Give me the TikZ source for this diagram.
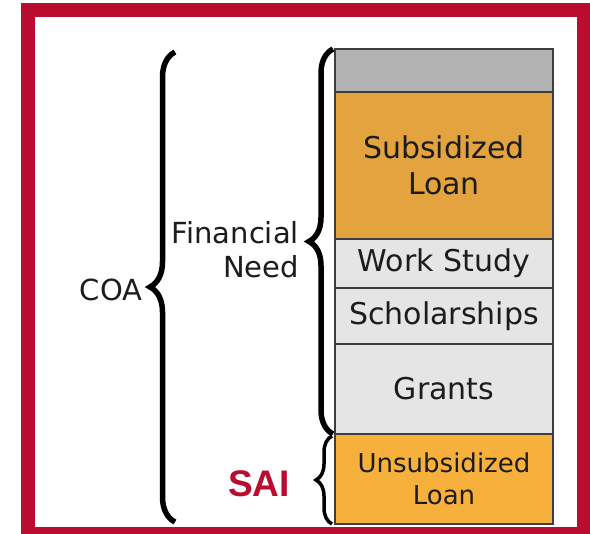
\documentclass[tikz,border=0pt]{standalone}
\usepackage{fontspec}
\setmainfont{DejaVu Sans}
\newfontfamily\saifont{Liberation Sans}
\usetikzlibrary{positioning,decorations.pathreplacing}
\definecolor{framered}{HTML}{BA0C2F}
\definecolor{capgray}{HTML}{B3B3B3}
\definecolor{loanorange}{HTML}{E3A33E}
\definecolor{unsuborange}{HTML}{F8B03C}
\definecolor{aidgray}{HTML}{E5E5E5}
\definecolor{ink}{HTML}{1C1C1C}
\tikzset{
	seg/.style={draw=ink!85,line width=1.8pt,minimum width=218pt,inner sep=0pt,outer sep=0pt,
		align=center,text=ink,font=\fontsize{30}{37}\selectfont},
	sidetext/.style={text=ink,inner sep=0pt,font=\fontsize{29}{34}\selectfont},
	curly/.style={decorate,decoration={brace,amplitude=#1},line width=5.5pt}
}
\begin{document}
\begin{tikzpicture}[x=1pt,y=-1pt]
	\useasboundingbox (0,0) rectangle (590,534);
	\fill[framered] (21,3) rectangle (590,534);
	\fill[white] (35,17) rectangle (577,527);
	% the stacked bar
	\node[seg,fill=capgray,minimum height=43pt,anchor=north west] (cap) at (335,49) {};
	\node[seg,fill=loanorange,minimum height=147pt,below=0pt of cap] (sub) {Subsidized\\[-1pt]Loan};
	\node[seg,fill=aidgray,minimum height=49pt,below=0pt of sub] (work) {Work Study};
	\node[seg,fill=aidgray,minimum height=56pt,below=0pt of work] (schol) {Scholarships};
	\node[seg,fill=aidgray,minimum height=90pt,below=0pt of schol] (grants) {Grants};
	\node[seg,fill=unsuborange,minimum height=90pt,below=0pt of grants,
		font=\fontsize{26}{32}\selectfont] (unsub) {Unsubsidized\\Loan};
	% labels
	\node[sidetext,align=right,anchor=east] (need) at (299,250) {Financial\\Need};
	\node[sidetext] (coa) at (111,290) {COA};
	\node[text=framered,font=\saifont\bfseries\fontsize{37}{37}\selectfont] (sai) at (259,484) {SAI};
	% braces
	\coordinate (coabot) at (175,522);
	\coordinate (coatop) at (175,52);
	\draw[curly=25pt] (coabot) -- (coatop);
	\draw[curly=24pt] ([xshift=-2pt]grants.south west) -- ([xshift=-2pt]cap.north west);
	\draw[curly=16pt,line width=3.5pt] ([xshift=-3pt]unsub.south west) -- ([xshift=-3pt,yshift=-2pt]unsub.north west);
\end{tikzpicture}
\end{document}
